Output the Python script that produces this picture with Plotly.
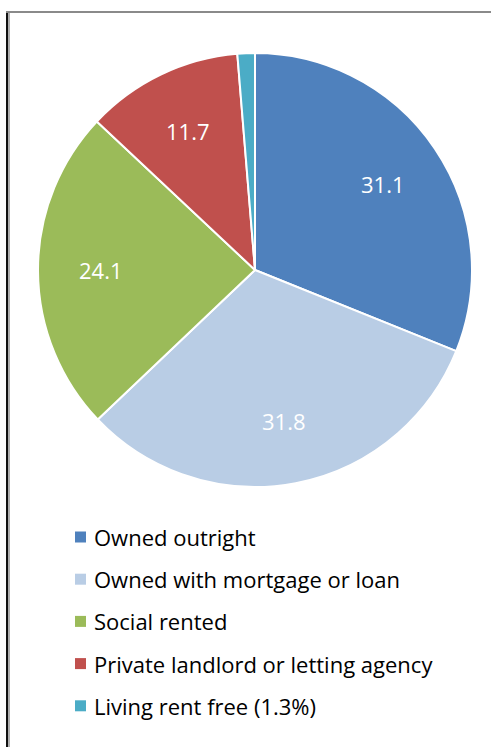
import math
import plotly.graph_objects as go

# Tenure shares (%)
labels = [
    "Owned outright",
    "Owned with mortgage or loan",
    "Social rented",
    "Private landlord or letting agency",
    "Living rent free (1.3%)",
]
values = [31.1, 31.8, 24.1, 11.7, 1.3]
colors = ["#4F81BD", "#B9CDE5", "#9BBB59", "#C0504D", "#4BACC6"]
show_label = [True, True, True, True, False]

W, H = 491, 747
FONT = "Open Sans"
CX, CY, R = 255, 270, 217          # pie centre and radius, px
LABEL_RADIUS = 0.71                # data labels sit at this fraction of the radius

fig = go.Figure()
fig.add_trace(go.Pie(
    labels=labels,
    values=values,
    sort=False,
    direction="clockwise",
    rotation=0,
    marker=dict(colors=colors, line=dict(color="white", width=2)),
    textinfo="none",
    domain=dict(x=[(CX - R) / W, (CX + R) / W],
                y=[1 - (CY + R) / H, 1 - (CY - R) / H]),
    showlegend=False,
    hoverinfo="label+value",
))

annotations = []

# Value labels placed at the middle angle of each slice
total = sum(values)
cum = 0.0
for v, show in zip(values, show_label):
    mid = (cum + v / 2) / total * 2 * math.pi   # clockwise from 12 o'clock
    cum += v
    if not show:
        continue
    px = CX + R * LABEL_RADIUS * math.sin(mid)
    py = CY - R * LABEL_RADIUS * math.cos(mid)
    annotations.append(dict(text=f"{v}", xref="paper", yref="paper",
                            x=px / W, y=1 - py / H,
                            xanchor="center", yanchor="middle", showarrow=False,
                            font=dict(family=FONT, size=22, color="white")))

# Legend drawn as colour swatches with text beside them
row_top = 537
row_gap = 42.2
sw = 11
shapes = []
for i, (lab, col) in enumerate(zip(labels, colors)):
    yc = row_top + i * row_gap
    shapes.append(dict(type="rect", xref="paper", yref="paper",
                       x0=75 / W, x1=(75 + sw) / W,
                       y0=1 - (yc + sw / 2) / H, y1=1 - (yc - sw / 2) / H,
                       fillcolor=col, line=dict(width=0)))
    annotations.append(dict(text=lab, xref="paper", yref="paper",
                            x=92 / W, y=1 - yc / H, xanchor="left", yanchor="middle",
                            showarrow=False,
                            font=dict(family=FONT, size=22, color="#000000")))

# Frame around the chart area (dark left edge, grey top edge)
shapes += [
    dict(type="line", xref="paper", yref="paper", x0=7 / W, x1=7 / W,
         y0=0, y1=1 - 11 / H, line=dict(color="#111111", width=2)),
    dict(type="line", xref="paper", yref="paper", x0=9 / W, x1=9 / W,
         y0=0, y1=1 - 12 / H, line=dict(color="#b0b0b0", width=2)),
    dict(type="line", xref="paper", yref="paper", x0=6 / W, x1=1,
         y0=1 - 12 / H, y1=1 - 12 / H, line=dict(color="#8a8a8a", width=2)),
]

fig.update_layout(
    width=W, height=H, autosize=False,
    margin=dict(l=0, r=0, t=0, b=0),
    paper_bgcolor="white", plot_bgcolor="white",
    shapes=shapes, annotations=annotations,
    showlegend=False,
)

fig.write_html("out.html")
